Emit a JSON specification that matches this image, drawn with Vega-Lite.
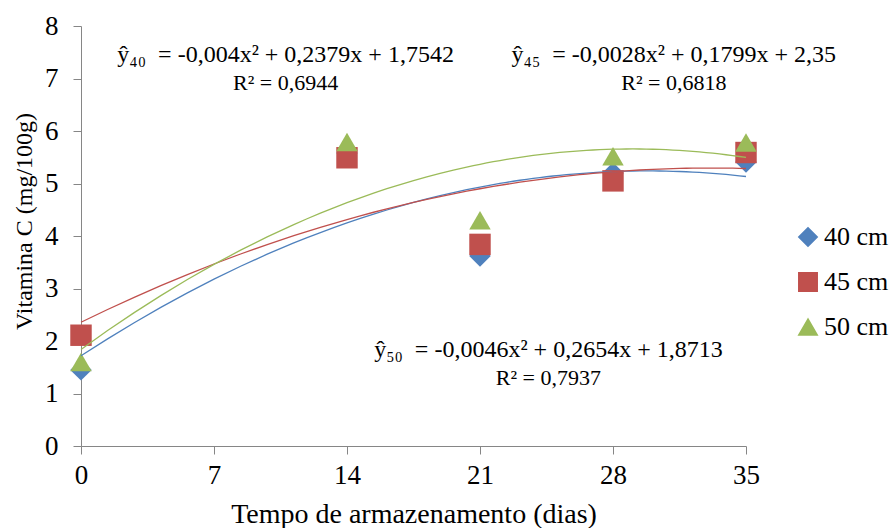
{
  "$schema": "https://vega.github.io/schema/vega-lite/v6.json",
  "width": 665,
  "height": 420,
  "autosize": {"type": "none"},
  "padding": {"left": 81, "top": 26, "right": 145, "bottom": 82},
  "background": "white",
  "config": {"view": {"stroke": null}, "font": "'Liberation Serif', 'Times New Roman', serif"},
  "datasets": {
    "obs": [
      {"day": 0, "series": "40 cm", "value": 1.45},
      {"day": 14, "series": "40 cm", "value": 5.58},
      {"day": 21, "series": "40 cm", "value": 3.62},
      {"day": 28, "series": "40 cm", "value": 5.2},
      {"day": 35, "series": "40 cm", "value": 5.41},
      {"day": 0, "series": "45 cm", "value": 2.11},
      {"day": 14, "series": "45 cm", "value": 5.49},
      {"day": 21, "series": "45 cm", "value": 3.84},
      {"day": 28, "series": "45 cm", "value": 5.05},
      {"day": 35, "series": "45 cm", "value": 5.59},
      {"day": 0, "series": "50 cm", "value": 1.6},
      {"day": 14, "series": "50 cm", "value": 5.79},
      {"day": 21, "series": "50 cm", "value": 4.3},
      {"day": 28, "series": "50 cm", "value": 5.52},
      {"day": 35, "series": "50 cm", "value": 5.78}
    ]
  },
  "layer": [
    {
      "data": {"name": "obs"},
      "mark": {"type": "point", "filled": true, "opacity": 1, "size": 460},
      "encoding": {
        "x": {
          "field": "day", "type": "quantitative",
          "scale": {"domain": [0, 35], "nice": false, "zero": false},
          "axis": {
            "values": [0, 7, 14, 21, 28, 35],
            "title": "Tempo de armazenamento (dias)",
            "grid": false,
            "domainColor": "#868686", "tickColor": "#868686", "tickSize": 8,
            "labelFontSize": 27, "labelFont": "'Liberation Serif', 'Times New Roman', serif", "labelColor": "black",
            "labelPadding": 8, "labelFlush": false,
            "titleFontSize": 28, "titleFont": "'Liberation Serif', 'Times New Roman', serif", "titleFontWeight": "normal",
            "titleColor": "black", "titleY": 76, "titleBaseline": "alphabetic"
          }
        },
        "y": {
          "field": "value", "type": "quantitative",
          "scale": {"domain": [0, 8], "nice": false},
          "axis": {
            "values": [0, 1, 2, 3, 4, 5, 6, 7, 8],
            "title": "Vitamina C (mg/100g)",
            "grid": false,
            "domainColor": "#868686", "tickColor": "#868686", "tickSize": 8,
            "labelFontSize": 27, "labelFont": "'Liberation Serif', 'Times New Roman', serif", "labelColor": "black",
            "labelPadding": 15, "labelFlush": false,
            "titleFontSize": 24, "titleFont": "'Liberation Serif', 'Times New Roman', serif", "titleFontWeight": "normal",
            "titleColor": "black", "titleX": -57, "titleY": 195, "titleBaseline": "middle"
          }
        },
        "color": {
          "field": "series", "type": "nominal",
          "scale": {"domain": ["40 cm", "45 cm", "50 cm"], "range": ["#4F81BD", "#C0504D", "#9BBB59"]},
          "legend": {
            "title": null, "orient": "none", "legendX": 714, "legendY": 198,
            "labelFontSize": 26, "labelFont": "'Liberation Serif', 'Times New Roman', serif", "labelColor": "black",
            "symbolSize": 340, "rowPadding": 19, "labelOffset": 3, "padding": 0, "symbolOpacity": 1, "labelLimit": 0
          }
        },
        "shape": {
          "field": "series", "type": "nominal",
          "scale": {"domain": ["40 cm", "45 cm", "50 cm"], "range": ["diamond", "square", "triangle-up"]},
          "legend": {
            "title": null, "orient": "none", "legendX": 714, "legendY": 198,
            "labelFontSize": 26, "labelFont": "'Liberation Serif', 'Times New Roman', serif", "labelColor": "black",
            "symbolSize": 340, "rowPadding": 19, "labelOffset": 3, "padding": 0, "symbolOpacity": 1, "labelLimit": 0
          }
        }
      }
    },
    {
      "data": {"name": "obs"},
      "transform": [
        {"regression": "value", "on": "day", "groupby": ["series"], "method": "poly", "order": 2, "extent": [0, 35]}
      ],
      "mark": {"type": "line", "strokeWidth": 1.3},
      "encoding": {
        "x": {"field": "day", "type": "quantitative"},
        "y": {"field": "value", "type": "quantitative"},
        "stroke": {
          "field": "series", "type": "nominal",
          "scale": {"domain": ["40 cm", "45 cm", "50 cm"], "range": ["#4F81BD", "#C0504D", "#9BBB59"]},
          "legend": null
        }
      }
    },
    {
      "data": {"values": [{}]},
      "mark": {"type": "text", "text": "ŷ₄₀\u2002= -0,004x² + 0,2379x + 1,7542", "fontSize": 24, "font": "'Liberation Serif', 'Times New Roman', serif", "align": "center", "baseline": "middle", "color": "black"},
      "encoding": {"x": {"datum": 10.77, "type": "quantitative"}, "y": {"datum": 7.44, "type": "quantitative"}}
    },
    {
      "data": {"values": [{}]},
      "mark": {"type": "text", "text": "R² = 0,6944", "fontSize": 22, "font": "'Liberation Serif', 'Times New Roman', serif", "align": "center", "baseline": "middle", "color": "black"},
      "encoding": {"x": {"datum": 10.77, "type": "quantitative"}, "y": {"datum": 6.91, "type": "quantitative"}}
    },
    {
      "data": {"values": [{}]},
      "mark": {"type": "text", "text": "ŷ₄₅\u2002= -0,0028x² + 0,1799x + 2,35", "fontSize": 24, "font": "'Liberation Serif', 'Times New Roman', serif", "align": "center", "baseline": "middle", "color": "black"},
      "encoding": {"x": {"datum": 31.2, "type": "quantitative"}, "y": {"datum": 7.44, "type": "quantitative"}}
    },
    {
      "data": {"values": [{}]},
      "mark": {"type": "text", "text": "R² = 0,6818", "fontSize": 22, "font": "'Liberation Serif', 'Times New Roman', serif", "align": "center", "baseline": "middle", "color": "black"},
      "encoding": {"x": {"datum": 31.2, "type": "quantitative"}, "y": {"datum": 6.91, "type": "quantitative"}}
    },
    {
      "data": {"values": [{}]},
      "mark": {"type": "text", "text": "ŷ₅₀\u2002= -0,0046x² + 0,2654x + 1,8713", "fontSize": 24, "font": "'Liberation Serif', 'Times New Roman', serif", "align": "center", "baseline": "middle", "color": "black"},
      "encoding": {"x": {"datum": 24.6, "type": "quantitative"}, "y": {"datum": 1.82, "type": "quantitative"}}
    },
    {
      "data": {"values": [{}]},
      "mark": {"type": "text", "text": "R² = 0,7937", "fontSize": 22, "font": "'Liberation Serif', 'Times New Roman', serif", "align": "center", "baseline": "middle", "color": "black"},
      "encoding": {"x": {"datum": 24.6, "type": "quantitative"}, "y": {"datum": 1.29, "type": "quantitative"}}
    }
  ]
}
